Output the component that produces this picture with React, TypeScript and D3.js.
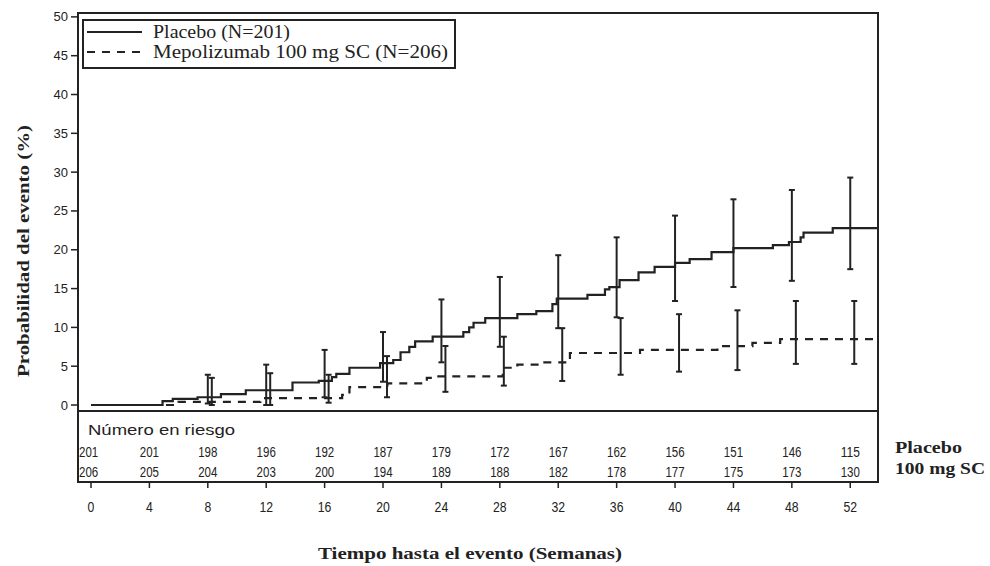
import React from "react";
import * as d3 from "d3";

// Kaplan-Meier cumulative event probability (%), step-after points
const placeboTimes = [0, 4.9, 5.6, 7.3, 8.9, 10.6, 13.8, 15.6, 16.5, 16.8, 17.7, 19.8, 20.7, 21.2, 21.8, 22.2, 23.4, 25.5, 25.9, 26.2, 27.0, 29.2, 30.5, 31.6, 31.9, 34.0, 35.2, 35.5, 36.2, 37.5, 38.6, 40.0, 41.0, 42.5, 44.0, 46.7, 47.8, 48.6, 48.8, 50.8];
const placeboProb = [0, 0.5, 0.8, 1.0, 1.4, 1.9, 2.9, 3.1, 3.6, 4.0, 4.8, 5.4, 5.8, 6.8, 7.5, 8.2, 8.8, 9.4, 10.0, 10.6, 11.2, 11.7, 12.1, 13.0, 13.7, 14.2, 14.9, 15.2, 16.1, 17.1, 17.8, 18.3, 18.8, 19.7, 20.2, 20.6, 21.0, 21.6, 22.2, 22.8];

const mepoTimes = [0, 6.0, 11.6, 17.2, 17.7, 20.3, 23.0, 23.6, 28.2, 29.2, 30.7, 32.8, 37.6, 42.9, 45.3, 47.2];
const mepoProb = [0, 0.4, 0.9, 1.3, 2.3, 2.8, 3.5, 3.7, 4.8, 5.2, 5.5, 6.7, 7.1, 7.6, 8.0, 8.5];

// 95% CI error bars
const ciWeeks = [8, 12, 16, 20, 24, 28, 32, 36, 40, 44, 48, 52];
const placeboLower = [0.2, 0.0, 1.0, 3.0, 5.5, 7.5, 9.9, 11.3, 13.4, 15.2, 16.0, 17.5];
const placeboUpper = [3.9, 5.2, 7.1, 9.4, 13.6, 16.5, 19.3, 21.6, 24.4, 26.5, 27.7, 29.3];
const mepoLower = [0.0, 0.0, 0.3, 1.0, 1.7, 2.5, 3.1, 3.9, 4.3, 4.5, 5.3, 5.3];
const mepoUpper = [3.5, 4.1, 3.9, 6.3, 7.6, 8.8, 9.9, 11.2, 11.7, 12.2, 13.4, 13.4];

// Axes
const xTicks = [0, 4, 8, 12, 16, 20, 24, 28, 32, 36, 40, 44, 48, 52];
const yTicks = [0, 5, 10, 15, 20, 25, 30, 35, 40, 45, 50];

// Number at risk
const placeboAtRisk = [201, 201, 198, 196, 192, 187, 179, 172, 167, 162, 156, 151, 146, 115];
const mepoAtRisk = [206, 205, 204, 203, 200, 194, 189, 188, 182, 178, 177, 175, 173, 130];

const legendLabels = ["Placebo (N=201)", "Mepolizumab 100 mg SC (N=206)"];
const riskRowLabels = ["Placebo", "100 mg SC"];

const INK = "#222";
const SANS = "'Liberation Sans', Arial, sans-serif";
const SERIF = "'Liberation Serif', 'Times New Roman', serif";

export default function App() {
  const left = 78, right = 878, top = 13, plotBottom = 411, tableBottom = 482;
  const xMax = 53.9;
  const x = d3.scaleLinear().domain([-0.89, xMax]).range([left, right]);
  const y = d3.scaleLinear().domain([-0.77, 50.5]).range([plotBottom, top]);

  const line = d3
    .line<[number, number]>()
    .x((d) => x(d[0]))
    .y((d) => y(d[1]))
    .curve(d3.curveStepAfter);

  const plPts: [number, number][] = placeboTimes.map((t, i) => [t, placeboProb[i]]);
  plPts.push([xMax, placeboProb[placeboProb.length - 1]]);
  const mpPts: [number, number][] = mepoTimes.map((t, i) => [t, mepoProb[i]]);
  mpPts.push([xMax, mepoProb[mepoProb.length - 1]]);

  const cap = 3;
  const mepoOffset = 4;

  const errBar = (cx: number, lo: number, hi: number, key: string) => (
    <g key={key} stroke={INK} strokeWidth={2}>
      <line x1={cx} x2={cx} y1={y(lo)} y2={y(hi)} />
      <line x1={cx - cap} x2={cx + cap} y1={y(lo)} y2={y(lo)} />
      <line x1={cx - cap} x2={cx + cap} y1={y(hi)} y2={y(hi)} />
    </g>
  );

  const numWidth = (n: number) => String(n).length * 6.4;

  return (
    <svg
      width={990}
      height={566}
      style={{ position: "absolute", left: 0, top: 0, background: "#fff" }}
    >
      <rect x={0} y={0} width={990} height={566} fill="#fff" />
      <defs>
        <clipPath id="plotClip">
          <rect x={left} y={top} width={right - left} height={plotBottom - top} />
        </clipPath>
      </defs>

      {/* frame */}
      <g stroke={INK} strokeWidth={2} fill="none">
        <rect x={left} y={top} width={right - left} height={tableBottom - top} />
        <line x1={left} x2={right} y1={plotBottom} y2={plotBottom} />
      </g>

      {/* y axis ticks */}
      {yTicks.map((v) => (
        <g key={"yt" + v}>
          <line x1={left - 7} x2={left} y1={y(v)} y2={y(v)} stroke={INK} strokeWidth={1.5} />
          <text
            x={left - 10}
            y={y(v) + 4.5}
            textAnchor="end"
            fontFamily={SANS}
            fontSize={13}
            fill={INK}
          >
            {v}
          </text>
        </g>
      ))}

      {/* x axis ticks below table */}
      {xTicks.map((t) => (
        <g key={"xt" + t}>
          <line x1={x(t)} x2={x(t)} y1={tableBottom} y2={tableBottom + 6} stroke={INK} strokeWidth={1.5} />
          <text
            x={x(t)}
            y={512}
            textAnchor="middle"
            fontFamily={SANS}
            fontSize={14}
            fill={INK}
            textLength={String(t).length * 6.8}
            lengthAdjust="spacingAndGlyphs"
          >
            {t}
          </text>
        </g>
      ))}

      {/* curves */}
      <g clipPath="url(#plotClip)" fill="none">
        <path d={line(plPts) || ""} stroke={INK} strokeWidth={2.2} />
        <path d={line(mpPts) || ""} stroke={INK} strokeWidth={2.2} strokeDasharray="8,7" />
        {ciWeeks.map((t, i) => errBar(x(t), placeboLower[i], placeboUpper[i], "pe" + t))}
        {ciWeeks.map((t, i) => errBar(x(t) + mepoOffset, mepoLower[i], mepoUpper[i], "me" + t))}
      </g>

      {/* legend */}
      <rect x={83} y={20} width={372} height={48} fill="#fff" stroke={INK} strokeWidth={2} />
      <line x1={87} x2={142} y1={32} y2={32} stroke={INK} strokeWidth={2} />
      <line x1={87} x2={142} y1={52} y2={52} stroke={INK} strokeWidth={2} strokeDasharray="8,7" />
      <text x={153} y={38} fontFamily={SERIF} fontSize={18} fill={INK} textLength={137} lengthAdjust="spacingAndGlyphs">
        {legendLabels[0]}
      </text>
      <text x={153} y={58} fontFamily={SERIF} fontSize={18} fill={INK} textLength={295} lengthAdjust="spacingAndGlyphs">
        {legendLabels[1]}
      </text>

      {/* number at risk */}
      <text x={88} y={435} fontFamily={SANS} fontSize={15} fill={INK} textLength={147} lengthAdjust="spacingAndGlyphs">
        Número en riesgo
      </text>
      {xTicks.map((t, i) => {
        const first = i === 0;
        const cx = first ? left + 1 : x(t);
        const anchor = first ? "start" : "middle";
        return (
          <g key={"ar" + t} fontFamily={SANS} fontSize={15} fill={INK}>
            <text x={cx} y={457} textAnchor={anchor} textLength={numWidth(placeboAtRisk[i])} lengthAdjust="spacingAndGlyphs">
              {placeboAtRisk[i]}
            </text>
            <text x={cx} y={477} textAnchor={anchor} textLength={numWidth(mepoAtRisk[i])} lengthAdjust="spacingAndGlyphs">
              {mepoAtRisk[i]}
            </text>
          </g>
        );
      })}
      <text x={895} y={453} fontFamily={SERIF} fontWeight="bold" fontSize={16} fill={INK} textLength={67} lengthAdjust="spacingAndGlyphs">
        {riskRowLabels[0]}
      </text>
      <text x={895} y={474} fontFamily={SERIF} fontWeight="bold" fontSize={16} fill={INK} textLength={90} lengthAdjust="spacingAndGlyphs">
        {riskRowLabels[1]}
      </text>

      {/* axis titles */}
      <text
        transform="translate(29,251) rotate(-90)"
        textAnchor="middle"
        fontFamily={SERIF}
        fontWeight="bold"
        fontSize={17}
        fill={INK}
        textLength={252}
        lengthAdjust="spacingAndGlyphs"
      >
        Probabilidad del evento (%)
      </text>
      <text
        x={470}
        y={559}
        textAnchor="middle"
        fontFamily={SERIF}
        fontWeight="bold"
        fontSize={17}
        fill={INK}
        textLength={304}
        lengthAdjust="spacingAndGlyphs"
      >
        Tiempo hasta el evento (Semanas)
      </text>
    </svg>
  );
}
